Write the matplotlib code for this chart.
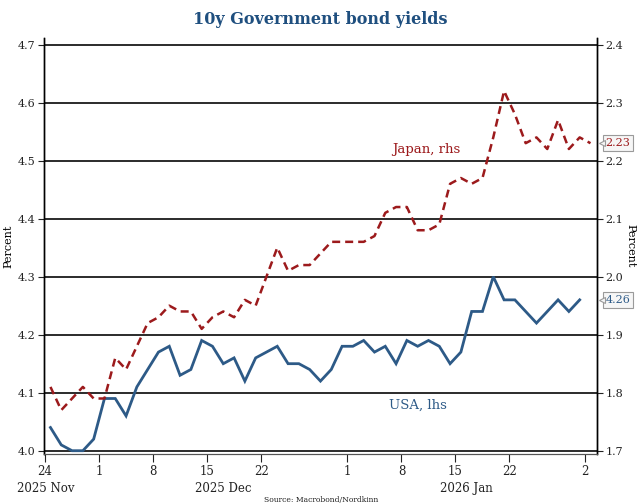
import matplotlib
matplotlib.use("Agg")
import matplotlib.pyplot as plt
import matplotlib.transforms as mtransforms
import pandas as pd

# business days on the x axis, Nov 24 2025 -> Feb 2 2026
dates = pd.bdate_range("2025-11-24", "2026-02-02")

usa = [4.04, 4.01, 4.00, 4.00, 4.02, 4.09, 4.09, 4.06, 4.11, 4.14,
       4.17, 4.18, 4.13, 4.14, 4.19, 4.18, 4.15, 4.16, 4.12, 4.16,
       4.17, 4.18, 4.15, 4.15, 4.14, 4.12, 4.14, 4.18, 4.18, 4.19,
       4.17, 4.18, 4.15, 4.19, 4.18, 4.19, 4.18, 4.15, 4.17, 4.24,
       4.24, 4.30, 4.26, 4.26, 4.24, 4.22, 4.24, 4.26, 4.24, 4.26]

japan = [1.81, 1.77, 1.79, 1.81, 1.79, 1.79, 1.86, 1.84, 1.88, 1.92,
         1.93, 1.95, 1.94, 1.94, 1.91, 1.93, 1.94, 1.93, 1.96, 1.95,
         2.00, 2.05, 2.01, 2.02, 2.02, 2.04, 2.06, 2.06, 2.06, 2.06,
         2.07, 2.11, 2.12, 2.12, 2.08, 2.08, 2.09, 2.16, 2.17, 2.16,
         2.17, 2.24, 2.32, 2.28, 2.23, 2.24, 2.22, 2.27, 2.22, 2.24,
         2.23]

tick_dates = ["2025-11-24", "2025-12-01", "2025-12-08", "2025-12-15",
              "2025-12-22", "2026-01-01", "2026-01-08", "2026-01-15",
              "2026-01-22", "2026-02-02"]
month_labels = ["2025 Nov", "2025 Dec", "2026 Jan"]
month_pos = [0.1, 16.5, 39.0]

left_ticks = [4.0, 4.1, 4.2, 4.3, 4.4, 4.5, 4.6, 4.7]
right_ticks = [1.7, 1.8, 1.9, 2.0, 2.1, 2.2, 2.3, 2.4]

BLUE = "#2d5a87"
RED = "#9c1a1c"
TITLE = "#1f4f7f"

plt.rcParams["font.family"] = "DejaVu Serif"

fig = plt.figure(figsize=(6.43, 5.04), dpi=100)
ax = fig.add_axes([0.0684, 0.0988, 0.86, 0.8266])
ax2 = ax.twinx()

x_usa = [i + 0.5 for i in range(len(usa))]
x_jp = [i + 0.5 for i in range(len(japan))]

ax.plot(x_usa, usa, color=BLUE, lw=2.0, solid_joinstyle="miter", zorder=3)
ax2.plot(x_jp, japan, color=RED, lw=1.8, ls=(0, (3.2, 2.0)), zorder=3)

ax.set_ylim(3.994, 4.712)
ax2.set_ylim(3.994 - 2.3, 4.712 - 2.3)
ax.set_xlim(-0.1, 51.1)

ax.set_yticks(left_ticks)
ax.set_yticklabels([f"{v:.1f}" for v in left_ticks])
ax2.set_yticks(right_ticks)
ax2.set_yticklabels([f"{v:.1f}" for v in right_ticks])
ax.grid(axis="y", color="#1a1a1a", lw=1.3)
ax.set_axisbelow(True)

tick_pos = [list(dates).index(pd.Timestamp(d)) for d in tick_dates]
ax.set_xticks(tick_pos)
ax.set_xticklabels([str(pd.Timestamp(d).day) for d in tick_dates])
for pos, lab in zip(month_pos, month_labels):
    ax.text(pos, -0.066, lab, transform=ax.get_xaxis_transform(),
            ha="center", va="top", fontsize=8.5, color="#222222")

for a in (ax, ax2):
    a.spines["top"].set_visible(False)
    a.spines["left"].set_linewidth(1.0)
    a.spines["right"].set_linewidth(1.0)
    a.spines["bottom"].set_color("#555555")
    a.tick_params(axis="y", direction="out", length=4, width=0.8,
                  labelsize=8, pad=2, colors="#222222")
ax.tick_params(axis="x", direction="out", length=6, width=0.8,
               labelsize=8.5, pad=2, colors="#222222")

ax.set_ylabel("Percent", fontsize=8, labelpad=3)
ax2.set_ylabel("Percent", fontsize=8, rotation=270, labelpad=9)

ax.set_title("10y Government bond yields", fontsize=11.5, fontweight="bold",
             color=TITLE, pad=10)

# series labels placed in pixel coordinates (origin bottom-left)
ax.text(418, 504 - 405, "USA, lhs", transform=None, fontsize=9.5,
        color=BLUE, ha="center", va="center")
ax.text(426, 504 - 150, "Japan, rhs", transform=None, fontsize=9.5,
        color=RED, ha="center", va="center")

# last-value boxes on the right axis
for a, val, col in ((ax, usa[-1], BLUE), (ax2, japan[-1], RED)):
    tr = mtransforms.blended_transform_factory(a.transAxes, a.transData)
    a.annotate(f"{val:.2f}", xy=(1.0, val), xycoords=tr,
               xytext=(6, 0), textcoords="offset points",
               ha="left", va="center", fontsize=8, color=col,
               bbox=dict(boxstyle="square,pad=0.25", fc="#f6f6f6",
                         ec="#9a9a9a", lw=0.8), annotation_clip=False)
    mk_tr = mtransforms.offset_copy(tr, fig=fig, x=3.5, y=0, units="points")
    a.plot([1.0], [val], marker="<", ms=5, mfc="#f6f6f6", mec="#9a9a9a",
           mew=0.8, transform=mk_tr, clip_on=False, zorder=5)

fig.text(0.5, 0.0, "Source: Macrobond/Nordkinn", ha="center", va="bottom",
         fontsize=5.5, color="#222222")

fig.savefig("out.png", dpi=100)
